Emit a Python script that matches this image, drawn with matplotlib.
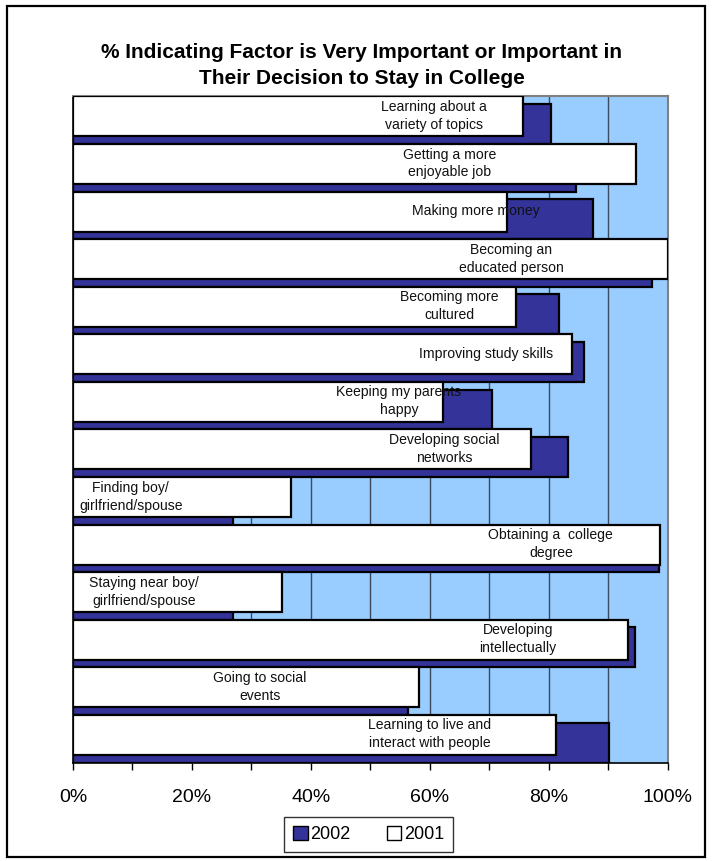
import numpy as np
import matplotlib
matplotlib.use("Agg")
import matplotlib.pyplot as plt
from matplotlib.patches import Rectangle, Patch

plt.rcParams['font.family'] = ['Liberation Sans', 'DejaVu Sans']

# factors, top to bottom
categories = [
    "Learning about a\nvariety of topics",
    "Getting a more\nenjoyable job",
    "Making more money",
    "Becoming an\neducated person",
    "Becoming more\ncultured",
    "Improving study skills",
    "Keeping my parents\nhappy",
    "Developing social\nnetworks",
    "Finding boy/\ngirlfriend/spouse",
    "Obtaining a  college\ndegree",
    "Staying near boy/\ngirlfriend/spouse",
    "Developing\nintellectually",
    "Going to social\nevents",
    "Learning to live and\ninteract with people",
]
pct_2002 = [80.3, 84.5, 87.4, 97.3, 81.7, 85.9, 70.4, 83.2, 26.9, 98.5, 26.9, 94.5, 56.3, 90.1]
pct_2001 = [75.6, 94.6, 72.9, 100.0, 74.5, 83.9, 62.2, 77.0, 36.6, 98.7, 35.1, 93.3, 58.2, 81.2]

# where each category name sits (x centre, in %)
label_x = [60.7, 63.3, 67.7, 73.7, 63.2, 69.4, 54.8, 62.4, 9.7, 80.3, 11.9, 74.8, 31.4, 60.0]

dark = "#333399"
sky = "#99CCFF"

fig = plt.figure(figsize=(7.12, 8.61), dpi=100)
ax = fig.add_axes([0.1025, 0.1144, 0.8357, 0.7736])
ax.set_facecolor(sky)

y = np.arange(len(categories))
h = 0.84
ax.barh(y + 0.08, pct_2002, height=h, color=dark, edgecolor="black", linewidth=1.6, zorder=2)
ax.barh(y - 0.08, pct_2001, height=h, color="white", edgecolor="black", linewidth=1.6, zorder=3)

for yi, lab, lx in zip(y, categories, label_x):
    ax.text(lx, yi - 0.09, lab, ha="center", va="center", fontsize=10.1,
            color="#111111", zorder=4, linespacing=1.36)

ax.set_xlim(0, 100)
ax.set_ylim(len(categories) - 0.5, -0.5)
ax.set_xticks(np.arange(0, 101, 10))
ax.set_xticklabels([f"{v}%" if v % 20 == 0 else "" for v in range(0, 101, 10)], fontsize=14)
ax.tick_params(axis="x", length=5, width=1, direction="out", pad=14)
ax.set_yticks([])
ax.grid(axis="x", color="#3c4a5e", linewidth=1, zorder=1)
ax.set_axisbelow(True)
for side in ["top", "right"]:
    ax.spines[side].set_color("#808080")
    ax.spines[side].set_linewidth(1.5)
for side in ["left", "bottom"]:
    ax.spines[side].set_color("black")
    ax.spines[side].set_linewidth(1.2)

fig.text(0.508, 0.9235, "% Indicating Factor is Very Important or Important in\nTheir Decision to Stay in College",
         ha="center", va="center", fontsize=15, fontweight="bold", linespacing=1.45)

handles = [Patch(facecolor=dark, edgecolor="black", label="2002"),
           Patch(facecolor="white", edgecolor="black", label="2001")]
leg = fig.legend(handles=handles, loc="center", bbox_to_anchor=(0.5176, 0.0308), ncol=2,
                 fontsize=13, frameon=True, fancybox=False, handlelength=0.8, handleheight=0.8,
                 handletextpad=0.15, columnspacing=2.0, borderpad=0.5)
leg.get_frame().set_edgecolor("black")
leg.get_frame().set_linewidth(1.0)

fig.patches.append(Rectangle((7 / 712, 1 - 857 / 861), 698 / 712, 851 / 861, transform=fig.transFigure,
                             fill=False, edgecolor="black", linewidth=1.6))

fig.savefig("out.png", dpi=100)
